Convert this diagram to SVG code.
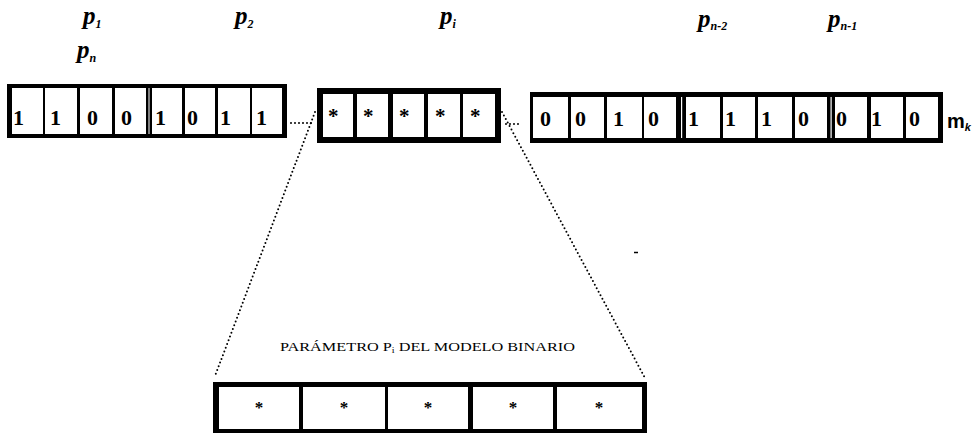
<svg xmlns="http://www.w3.org/2000/svg" width="976" height="434" viewBox="0 0 976 434">
  <style>
    .frame { fill: #000; }
    .cell { fill: #fff; }
    .bit { font-family: "Liberation Serif", "Times New Roman", serif; font-weight: bold; font-size: 22px; fill: #000; }
    .star { font-family: "Liberation Serif", "Times New Roman", serif; font-weight: bold; font-size: 21px; fill: #000; }
    .star-sm { font-family: "Liberation Serif", "Times New Roman", serif; font-weight: bold; font-size: 17px; fill: #000; text-anchor: middle; }
    .pname { font-family: "Liberation Serif", "Times New Roman", serif; font-weight: bold; font-style: italic; font-size: 25px; fill: #000; }
    .sub { font-size: 12px; }
    .caption { font-family: "Liberation Serif", "Times New Roman", serif; font-size: 13px; fill: #000; }
    .dots { fill: none; stroke: #000; stroke-width: 2; stroke-linecap: round; stroke-dasharray: 0 4; }
  </style>

  <!-- parameter labels above the chromosome -->
  <g id="labels">
    <text class="pname" x="83" y="24">p<tspan class="sub" dy="4">1</tspan></text>
    <text class="pname" x="77" y="58">p<tspan class="sub" dy="4">n</tspan></text>
    <text class="pname" x="235" y="24">p<tspan class="sub" dy="4">2</tspan></text>
    <text class="pname" x="440" y="24">p<tspan class="sub" dy="4">i</tspan></text>
    <text class="pname" x="698" y="27">p<tspan class="sub" dy="3">n-2</tspan></text>
    <text class="pname" x="828" y="27">p<tspan class="sub" dy="3">n-1</tspan></text>
  </g>

  <!-- first genes: p1, p2 -->
  <g id="block-left">
    <rect class="frame" x="7" y="84" width="280" height="54"/>
    <rect class="cell" x="12" y="88" width="31" height="46"/>
    <rect class="cell" x="45" y="88" width="32" height="46"/>
    <rect class="cell" x="80" y="88" width="32" height="46"/>
    <rect class="cell" x="115" y="88" width="31" height="46"/>
    <rect class="cell" x="148.5" y="88" width="1" height="46"/>
    <rect class="cell" x="152" y="88" width="30" height="46"/>
    <rect class="cell" x="185" y="88" width="30" height="46"/>
    <rect class="cell" x="218" y="88" width="32" height="46"/>
    <rect class="cell" x="252" y="88" width="30" height="46"/>
    <text class="bit" x="13" y="125">1</text>
    <text class="bit" x="50" y="125">1</text>
    <text class="bit" x="87" y="125">0</text>
    <text class="bit" x="121" y="125">0</text>
    <text class="bit" x="155" y="125">1</text>
    <text class="bit" x="187" y="125">0</text>
    <text class="bit" x="220" y="125">1</text>
    <text class="bit" x="256" y="125">1</text>
  </g>

  <!-- generic gene p_i -->
  <g id="block-mid">
    <rect class="frame" x="317" y="88" width="184" height="55"/>
    <rect class="cell" x="323" y="94" width="30" height="43"/>
    <rect class="cell" x="357" y="94" width="31" height="43"/>
    <rect class="cell" x="393" y="94" width="31" height="43"/>
    <rect class="cell" x="428" y="94" width="32" height="43"/>
    <rect class="cell" x="463" y="94" width="32" height="43"/>
    <text class="star" x="328" y="123">*</text>
    <text class="star" x="363" y="123">*</text>
    <text class="star" x="399" y="123">*</text>
    <text class="star" x="435" y="123">*</text>
    <text class="star" x="470" y="123">*</text>
  </g>

  <!-- last genes: p(n-2), p(n-1), p(n) -->
  <g id="block-right">
    <rect class="frame" x="530" y="92" width="413" height="51"/>
    <rect class="cell" x="533" y="97" width="35" height="41"/>
    <rect class="cell" x="571" y="97" width="33" height="41"/>
    <rect class="cell" x="607" y="97" width="35" height="41"/>
    <rect class="cell" x="644" y="97" width="32" height="41"/>
    <rect class="cell" x="681" y="97" width="1.2" height="41"/>
    <rect class="cell" x="686" y="97" width="34" height="41"/>
    <rect class="cell" x="723" y="97" width="32" height="41"/>
    <rect class="cell" x="758" y="97" width="34" height="41"/>
    <rect class="cell" x="795" y="97" width="32" height="41"/>
    <rect class="cell" x="830.5" y="97" width="1.2" height="41"/>
    <rect class="cell" x="835" y="97" width="32" height="41"/>
    <rect class="cell" x="871" y="97" width="32" height="41"/>
    <rect class="cell" x="906" y="97" width="32" height="41"/>
    <text class="bit" x="540" y="126">0</text>
    <text class="bit" x="575" y="126">0</text>
    <text class="bit" x="613" y="126">1</text>
    <text class="bit" x="648" y="126">0</text>
    <text class="bit" x="688" y="126">1</text>
    <text class="bit" x="725" y="126">1</text>
    <text class="bit" x="761" y="126">1</text>
    <text class="bit" x="798" y="126">0</text>
    <text class="bit" x="836" y="126">0</text>
    <text class="bit" x="871" y="126">1</text>
    <text class="bit" x="909" y="126">0</text>
    <text class="bit" x="947" y="128" style="font-family:'Liberation Sans', Arial, sans-serif;font-size:20px">m<tspan class="sub" dy="3" style="font-style:italic;font-size:11px">k</tspan></text>
  </g>

  <!-- expanded view of p_i -->
  <g id="block-detail">
    <text class="caption" x="280" y="351" textLength="295" lengthAdjust="spacingAndGlyphs">PARÁMETRO  P<tspan font-size="8" dy="2">i</tspan><tspan dy="-2"> DEL MODELO BINARIO</tspan></text>
    <rect class="frame" x="213" y="382" width="434" height="51"/>
    <rect class="cell" x="219" y="387" width="80" height="42"/>
    <rect class="cell" x="303" y="387" width="82" height="42"/>
    <rect class="cell" x="388" y="387" width="80" height="42"/>
    <rect class="cell" x="473" y="387" width="80" height="42"/>
    <rect class="cell" x="557" y="387" width="85" height="42"/>
    <text class="star-sm" x="259" y="413">*</text>
    <text class="star-sm" x="344" y="413">*</text>
    <text class="star-sm" x="428" y="413">*</text>
    <text class="star-sm" x="513" y="413">*</text>
    <text class="star-sm" x="599" y="413">*</text>
  </g>

  <!-- ellipses between genes and the zoom guide lines -->
  <g id="connectors">
    <path class="dots" d="M291 123 H312"/>
    <path class="dots" d="M506 124 H522"/>
    <path class="dots" d="M315 112 L215 376"/>
    <path class="dots" d="M502 112 L645 378"/>
    <path d="M634 252.5 H638" stroke="#000" stroke-width="1.5"/>
  </g>
</svg>
